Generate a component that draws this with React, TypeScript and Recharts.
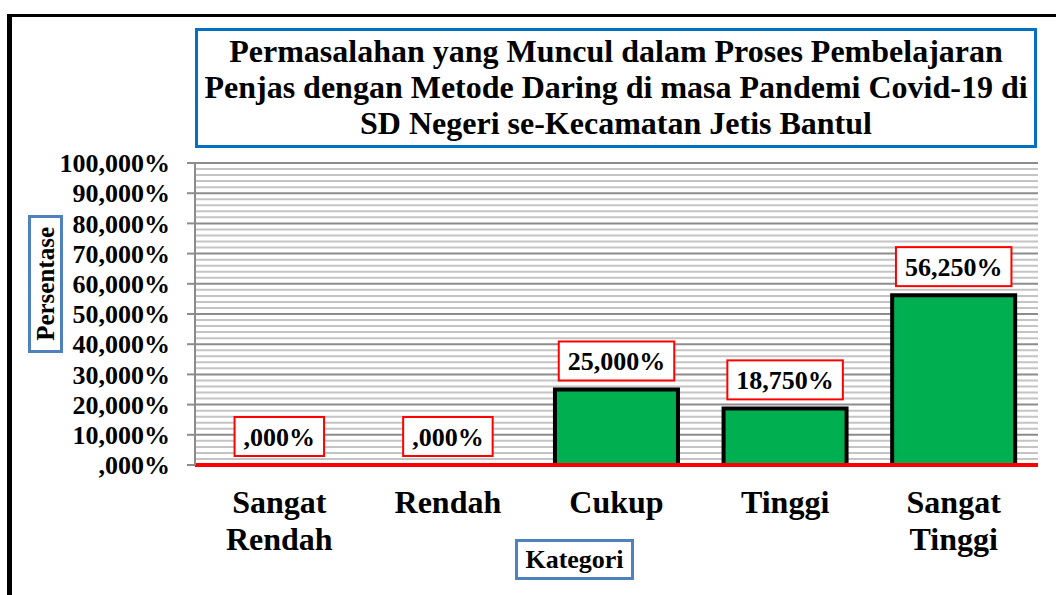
import {
  ComposedChart,
  Bar,
  Line,
  XAxis,
  YAxis,
  CartesianGrid,
  ReferenceLine,
  LabelList,
} from "recharts";

const categories = ["Sangat Rendah", "Rendah", "Cukup", "Tinggi", "Sangat Tinggi"];
const percentages = [0, 0, 25, 18.75, 56.25];
const majorTicks = [0, 10, 20, 30, 40, 50, 60, 70, 80, 90, 100];
const minorTicks = majorTicks.flatMap((t) => [2, 4, 6, 8].map((o) => t + o)).filter((v) => v < 100);
const titleLines = [
  "Permasalahan yang Muncul dalam Proses Pembelajaran",
  "Penjas dengan Metode Daring di masa Pandemi Covid-19 di",
  "SD Negeri se-Kecamatan Jetis Bantul",
];

const FONT = '"Liberation Serif", "Times New Roman", serif';

const data = categories.map((name, i) => ({ name, value: percentages[i] }));

// Indonesian style: comma decimal, no leading zero
const fmt = (v: number) => {
  const s = v.toFixed(3).replace(".", ",");
  return (s.startsWith("0,") ? s.slice(1) : s) + "%";
};

const textWidth = (s: string, size: number) => {
  let em = 0;
  for (const ch of s) {
    if (ch === ",") em += 0.25;
    else if (ch === "%") em += 1;
    else em += 0.5;
  }
  return em * size;
};

// label box sits just above the point (x is the category centre)
const ValueLabel = (props: any) => {
  const { x, y, value } = props;
  const label = fmt(Number(value));
  const size = 26;
  const w = textWidth(label, size) + 18;
  const h = 39;
  const top = y - 9 - h;
  return (
    <g>
      <rect x={x - w / 2} y={top} width={w} height={h} fill="#fff" stroke="#ff0000" strokeWidth={2} />
      <text x={x} y={top + h / 2 + 9} textAnchor="middle" fontFamily={FONT} fontWeight="bold" fontSize={size} fill="#000">
        {label}
      </text>
    </g>
  );
};

const CategoryTick = (props: any) => {
  const { x, y, payload } = props;
  const words = String(payload.value).split(" ");
  return (
    <text x={x} y={y + 48} textAnchor="middle" fontFamily={FONT} fontWeight="bold" fontSize={32} fill="#000">
      {words.map((w, i) => (
        <tspan key={i} x={x} dy={i === 0 ? 0 : 37}>
          {w}
        </tspan>
      ))}
    </text>
  );
};

const minorLines = ({ yAxis, offset }: any) =>
  minorTicks.map((v) =>
    yAxis && typeof yAxis.scale === "function"
      ? yAxis.scale(v)
      : offset.top + offset.height * (1 - v / 100)
  );

export default function App() {
  return (
    <div style={{ position: "absolute", left: 0, top: 0, width: 1056, height: 595, overflow: "hidden", background: "#fff" }}>
      <div
        style={{
          position: "absolute",
          left: 7,
          top: 14,
          width: 1200,
          height: 800,
          borderLeft: "5px solid #000",
          borderTop: "3px solid #000",
        }}
      />
      <div style={{ position: "absolute", left: 0, top: 0 }}>
        <ComposedChart
          width={1056}
          height={595}
          data={data}
          margin={{ top: 163, right: 18, bottom: 0, left: 0 }}
          barCategoryGap="13.5%"
        >
          <CartesianGrid vertical={false} stroke="#c4c4c4" strokeWidth={2} horizontalCoordinatesGenerator={minorLines} />
          <CartesianGrid vertical={false} stroke="#8c8c8c" strokeWidth={2} />
          <XAxis
            dataKey="name"
            height={130}
            axisLine={false}
            tickLine={false}
            tickSize={0}
            tickMargin={0}
            interval={0}
            tick={<CategoryTick />}
          />
          <YAxis
            width={195}
            domain={[0, 100]}
            ticks={majorTicks}
            interval={0}
            tickFormatter={fmt}
            axisLine={{ stroke: "#8c8c8c", strokeWidth: 2 }}
            tickLine={{ stroke: "#8c8c8c", strokeWidth: 2 }}
            tickSize={8}
            tickMargin={17}
            tick={{ fill: "#000", fontFamily: FONT, fontWeight: "bold", fontSize: 26 }}
          />
          <Bar dataKey="value" fill="#00b050" stroke="#000" strokeWidth={4} isAnimationActive={false} />
          <ReferenceLine y={0} stroke="#ff0000" strokeWidth={4} />
          <Line
            dataKey="value"
            stroke="none"
            dot={false}
            activeDot={false}
            legendType="none"
            isAnimationActive={false}
          >
            <LabelList dataKey="value" content={<ValueLabel />} />
          </Line>
        </ComposedChart>
      </div>
      <div
        style={{
          position: "absolute",
          left: 195,
          top: 28,
          width: 842,
          height: 120,
          boxSizing: "border-box",
          border: "3px solid #0070c0",
          background: "#fff",
          paddingTop: 2,
          textAlign: "center",
          fontFamily: FONT,
          fontWeight: "bold",
          fontSize: 32,
          lineHeight: "36px",
          color: "#000",
        }}
      >
        {titleLines.map((t) => (
          <div key={t} style={{ whiteSpace: "nowrap" }}>
            {t}
          </div>
        ))}
      </div>
      <div
        style={{
          position: "absolute",
          left: 28,
          top: 215,
          width: 35,
          height: 138,
          boxSizing: "border-box",
          border: "3px solid #4f81bd",
          background: "#fff",
          display: "flex",
          alignItems: "center",
          justifyContent: "center",
          fontFamily: FONT,
          fontWeight: "bold",
          fontSize: 25,
        }}
      >
        <span style={{ writingMode: "vertical-rl", transform: "rotate(180deg)", whiteSpace: "nowrap" }}>Persentase</span>
      </div>
      <div
        style={{
          position: "absolute",
          left: 515,
          top: 539,
          width: 119,
          height: 41,
          boxSizing: "border-box",
          border: "3px solid #4f81bd",
          background: "#fff",
          display: "flex",
          alignItems: "center",
          justifyContent: "center",
          fontFamily: FONT,
          fontWeight: "bold",
          fontSize: 26,
          whiteSpace: "nowrap",
        }}
      >
        Kategori
      </div>
    </div>
  );
}
